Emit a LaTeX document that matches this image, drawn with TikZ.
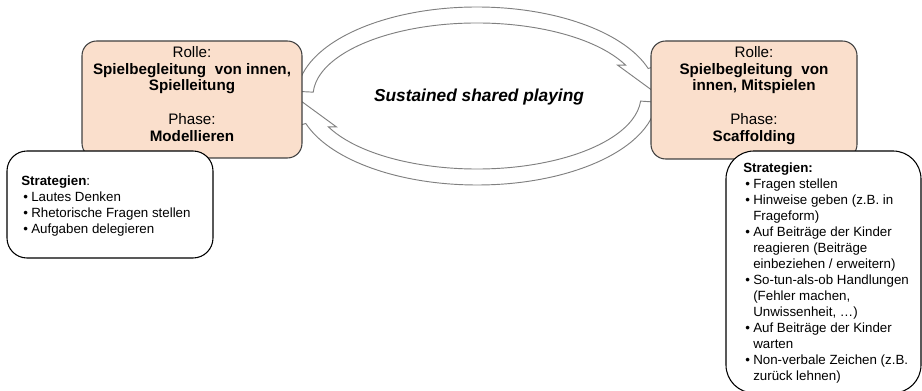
\documentclass[tikz,border=0pt]{standalone}
\usepackage{fontspec}
\setmainfont{Liberation Sans}
\usetikzlibrary{calc}
\definecolor{rollenfarbe}{HTML}{FADFCC}
\definecolor{randgrau}{HTML}{404040}
\definecolor{pfeilgrau}{HTML}{808080}

\begin{document}
\begin{tikzpicture}[x=0.75pt, y=0.75pt,
    rollenbox/.style={draw=randgrau, line width=0.8pt, fill=rollenfarbe, rounded corners=11pt, inner sep=0pt},
    rollentext/.style={anchor=north, align=center, inner sep=0pt, font=\fontsize{11.4}{12.6}\selectfont},
    strategiebox/.style={draw=black, line width=0.8pt, fill=white, inner sep=0pt},
    strategietext/.style={anchor=north west, inner sep=0pt, font=\fontsize{10}{12}\selectfont},
    kreispfeil/.style={draw=pfeilgrau, line width=0.7pt, fill=white, line join=miter}]
    \useasboundingbox (0,0) rectangle (922,-391);
    \clip (0,0) rectangle (922,-391);

    % Cycle arrows
    \coordinate (kreis) at (477,-96);
    \draw[kreispfeil] ($(kreis)+({180*cos(177)},{89*sin(177)})$)
        arc[start angle=177, end angle=18, x radius=180, y radius=89]
        -- ++(7,2) -- ($(kreis)+(176,5)$)
        -- ($(kreis)+({164*cos(25)-8},{73*sin(25)})$)
        -- ($(kreis)+({164*cos(25)},{73*sin(25)})$)
        arc[start angle=25, end angle=177, x radius=164, y radius=73] -- cycle;
    \draw[kreispfeil] ($(kreis)+({180*cos(-4)},{89*sin(-4)})$)
        arc[start angle=-4, end angle=-162, x radius=180, y radius=89]
        -- ++(-7,-2) -- ($(kreis)+(-176,-5)$)
        -- ($(kreis)+({164*cos(-155)+8},{73*sin(-155)})$)
        -- ($(kreis)+({164*cos(-155)},{73*sin(-155)})$)
        arc[start angle=-155, end angle=-4, x radius=164, y radius=73] -- cycle;
    \node[font=\fontsize{13}{15}\selectfont\bfseries\itshape] (sspiel) at (479,-97.5) {Sustained shared playing};

    % Roles
    \node[rollenbox, minimum width=165pt, minimum height=87.75pt] (linksbox) at (192,-99.5) {};
    \node[rollentext] (linkstext) at (192,-46) {Rolle:\\ \textbf{Spielbegleitung\hspace{0.3em} von innen,}\\ \textbf{Spielleitung}\\[12.6pt] Phase:\\ \textbf{Modellieren}};
    \node[rollenbox, minimum width=154.5pt, minimum height=88.5pt] (rechtsbox) at (754,-100) {};
    \node[rollentext] (rechtstext) at (754,-46) {Rolle:\\ \textbf{Spielbegleitung\hspace{0.3em} von}\\ \textbf{innen, Mitspielen}\\[12.6pt] Phase:\\ \textbf{Scaffolding}};

    % Strategies
    \node[strategiebox, rounded corners=15pt, minimum width=154.5pt, minimum height=80.25pt] (linksstrat) at (110,-204.5) {};
    \node[strategietext] (linksliste) at (21,-174.5) {%
        \begin{tabular}{@{\hspace{1.5pt}}l@{\hspace{2.5pt}}l@{}}
        \multicolumn{2}{@{}l@{}}{\textbf{Strategien}:}\\
        • & Lautes Denken\\
        • & Rhetorische Fragen stellen\\
        • & Aufgaben delegieren
        \end{tabular}};
    \node[strategiebox, rounded corners=21pt, minimum width=146.25pt, minimum height=181.5pt] (rechtsstrat) at (823.5,-272) {};
    \node[strategietext] (rechtsliste) at (743,-160.8) {%
        \begin{tabular}{@{\hspace{1.5pt}}l@{\hspace{2.5pt}}l@{}}
        \multicolumn{2}{@{}l@{}}{\textbf{Strategien:}}\\
        • & Fragen stellen\\
        • & Hinweise geben (z.B. in\\
          & Frageform)\\
        • & Auf Beiträge der Kinder\\
          & reagieren (Beiträge\\
          & einbeziehen / erweitern)\\
        • & So-tun-als-ob Handlungen\\
          & (Fehler machen,\\
          & Unwissenheit, …)\\
        • & Auf Beiträge der Kinder\\
          & warten\\
        • & Non-verbale Zeichen (z.B.\\
          & zurück lehnen)
        \end{tabular}};
\end{tikzpicture}
\end{document}
